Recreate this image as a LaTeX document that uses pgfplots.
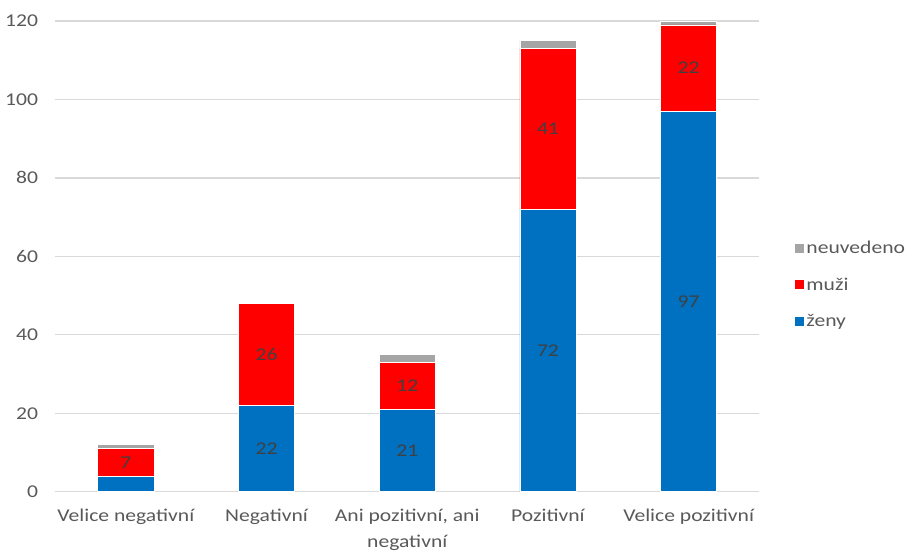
\documentclass[border=0pt]{standalone}
\usepackage{fontspec}
\setmainfont{Carlito}[FakeStretch=1.2]
\usepackage{pgfplots}
\pgfplotsset{compat=1.18}
\definecolor{zeny}{HTML}{0070C0}
\definecolor{muzi}{HTML}{FF0000}
\definecolor{neuv}{HTML}{A5A5A5}
\definecolor{txt}{HTML}{595959}
\definecolor{lbl}{HTML}{404040}
\definecolor{gridc}{HTML}{D9D9D9}
\pgfplotsset{chartframe/.style={
  scale only axis,
  width=703.5pt, height=470.7pt,
  xmin=-0.5, xmax=4.5,
  ymin=0, ymax=120}}
\begin{document}
\begin{tikzpicture}
\path[use as bounding box] (-55.5pt,-62.3pt) rectangle (851.5pt,491.7pt);
\begin{axis}[
  chartframe,
  ybar stacked,
  bar width=0.40,
  ytick={0,20,...,120},
  xtick={0,1,2,3,4},
  xticklabels={Velice negativní, Negativní, {Ani pozitivní, ani\\negativní}, Pozitivní, Velice pozitivní},
  xticklabel style={align=center, text=txt, font=\fontsize{18}{26}\selectfont, yshift=-14pt},
  yticklabel style={text=txt, font=\fontsize{18}{22}\selectfont, xshift=-14pt},
  /pgf/number format/assume math mode=true,
  major tick length=0pt,
  axis line style={draw=none},
  ymajorgrids,
  grid style={draw=gridc, line width=1.3pt},
  legend style={at={(1.045,0.44)}, anchor=west, draw=none, fill=none,
     font=\fontsize{18}{22}\selectfont, text=txt, row sep=19pt,
     legend cell align=left},
  legend image code/.code={\fill[#1] (0pt,-5pt) rectangle (10pt,5pt);},
  reverse legend,
]
\addplot[fill=zeny, draw=white, line width=0.6pt] coordinates {(0,4) (1,22) (2,21) (3,72) (4,97)};
\addlegendentry{ženy}
\addplot[fill=muzi, draw=white, line width=0.6pt] coordinates {(0,7) (1,26) (2,12) (3,41) (4,22)};
\addlegendentry{muži}
\addplot[fill=neuv, draw=white, line width=0.6pt] coordinates {(0,1) (1,0) (2,2) (3,2) (4,1)};
\addlegendentry{neuvedeno}
\end{axis}
\begin{axis}[
  chartframe,
  hide axis,
]
\addplot[draw=none, mark=none,
  nodes near coords, point meta=explicit symbolic,
  nodes near coords align=center,
  every node near coord/.append style={text=lbl, font=\fontsize{18}{22}\selectfont}]
  coordinates {(0,7.5)[7] (1,11)[22] (1,35)[26] (2,10.5)[21] (2,27)[12] (3,36)[72] (3,92.5)[41] (4,48.5)[97] (4,108)[22]};
\end{axis}
\end{tikzpicture}
\end{document}
